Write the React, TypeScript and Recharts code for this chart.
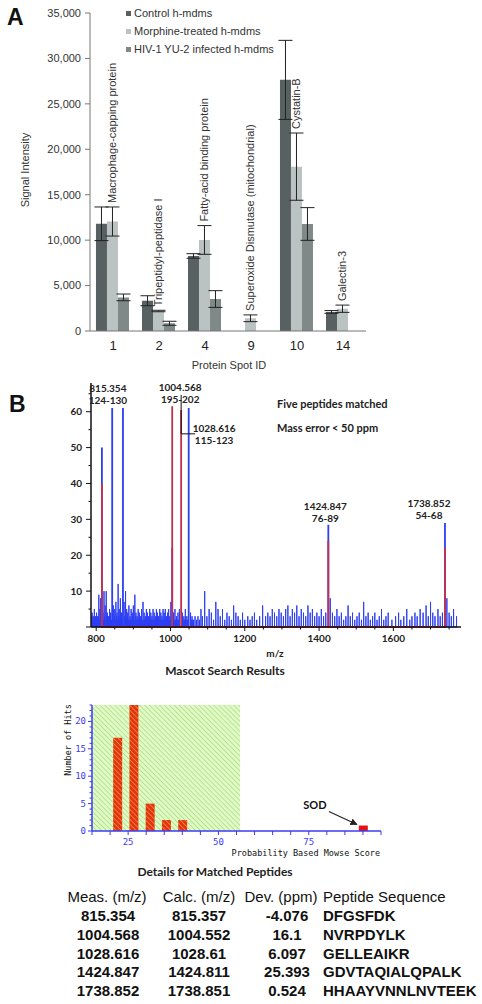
import React from 'react';
import {
    BarChart, Bar, Cell, XAxis, YAxis, ErrorBar, LabelList,
    ComposedChart, Line, Scatter, ReferenceArea
} from 'recharts';

// ---- panel A: signal intensity per protein spot
const spotIds = ['1', '2', '4', '9', '10', '14'];
const proteinNames = [
    'Macrophage-capping protein',
    'Tripeptidyl-peptidase I',
    'Fatty-acid binding protein',
    'Superoxide Dismutase (mitochondrial)',
    'Cystatin-B',
    'Galectin-3',
];
const seriesNames = ['Control h-mdms', 'Morphine-treated h-mdms', 'HIV-1 YU-2 infected h-mdms'];
const controlVals = [11800, 3330, 8260, 0, 27640, 2100];
const controlErr = [1850, 550, 250, 0, 4350, 150];
const morphineVals = [12050, 2200, 10020, 1400, 18090, 2450];
const morphineErr = [1600, 80, 1580, 370, 3700, 400];
const hivVals = [3700, 850, 3520, 0, 11780, 0];
const hivErr = [370, 220, 920, 0, 1800, 0];
const intensityTicks = [0, 5000, 10000, 15000, 20000, 25000, 30000, 35000];

// ---- panel B: MALDI spectrum (m/z, intensity)
const noisePeaks: [number, number][] = [
    [788, 3], [789, 4], [791, 2], [792, 3], [794, 2], [795, 5], [797, 2], [798, 3], [800, 2], [801, 4],
    [803, 3], [804, 2], [806, 3], [807, 9], [809, 2], [810, 5], [812, 8], [814, 3], [818, 4], [820, 2],
    [821, 10], [823, 3], [824, 6], [826, 2], [827, 10], [829, 3], [830, 4], [832, 2], [833, 3], [835, 2],
    [836, 5], [838, 3], [839, 4], [841, 2], [846, 6], [848, 3], [850, 5], [852, 2], [853, 7], [855, 3],
    [856, 4], [858, 2], [859, 12], [861, 3], [862, 5], [864, 2], [865, 8], [867, 3], [868, 4], [870, 2],
    [875, 7], [877, 3], [879, 10], [881, 2], [882, 5], [884, 3], [885, 4], [887, 2], [888, 6], [890, 2],
    [891, 3], [893, 2], [894, 5], [896, 2], [897, 4], [899, 3], [900, 6], [902, 2], [904, 9], [906, 3],
    [907, 4], [909, 2], [910, 3], [912, 2], [913, 5], [915, 2], [916, 4], [918, 2], [919, 3], [921, 2],
    [922, 5], [924, 2], [926, 7], [928, 2], [929, 4], [931, 2], [932, 3], [934, 2], [935, 5], [937, 2],
    [938, 4], [940, 2], [941, 3], [943, 2], [944, 5], [946, 2], [947, 4], [949, 2], [950, 3], [952, 2],
    [953, 5], [955, 2], [956, 4], [958, 2], [959, 3], [961, 2], [962, 5], [964, 2], [965, 4], [967, 2],
    [968, 3], [970, 2], [971, 5], [973, 2], [974, 4], [976, 2], [977, 3], [979, 2], [980, 5], [982, 2],
    [983, 4], [985, 2], [986, 5], [988, 2], [989, 3], [991, 2], [992, 4], [994, 2], [995, 5], [997, 2],
    [998, 3], [1000, 2], [1001, 7], [1008, 4], [1010, 2], [1012, 5], [1014, 2], [1016, 3], [1018, 2], [1020, 4],
    [1022, 2], [1024, 5], [1032, 4], [1034, 2], [1036, 3], [1038, 2], [1040, 5], [1042, 2], [1044, 3], [1046, 2],
    [1054, 4], [1056, 2], [1058, 3], [1060, 2], [1062, 2], [1066, 3], [1070, 2], [1074, 3], [1078, 2], [1082, 5],
    [1086, 3], [1092, 10], [1098, 3], [1104, 5], [1110, 4], [1116, 2], [1122, 7], [1128, 5], [1134, 3], [1140, 5],
    [1146, 2], [1152, 4], [1158, 3], [1164, 2], [1170, 6], [1176, 4], [1182, 3], [1188, 2], [1194, 4], [1200, 2],
    [1208, 3], [1214, 2], [1220, 3], [1226, 4], [1232, 2], [1240, 3], [1248, 6], [1256, 3], [1262, 4], [1268, 3],
    [1274, 5], [1280, 4], [1286, 3], [1292, 5], [1298, 4], [1304, 3], [1310, 5], [1316, 6], [1322, 3], [1328, 5],
    [1334, 4], [1340, 6], [1346, 3], [1352, 5], [1358, 4], [1364, 3], [1370, 6], [1376, 4], [1382, 5], [1388, 3],
    [1394, 4], [1400, 3], [1406, 5], [1412, 3], [1418, 4], [1430, 8], [1436, 4], [1442, 3], [1448, 5], [1454, 3],
    [1460, 4], [1466, 2], [1472, 3], [1478, 6], [1484, 3], [1490, 4], [1496, 2], [1502, 3], [1508, 4], [1514, 2],
    [1520, 7], [1526, 3], [1532, 4], [1538, 2], [1544, 3], [1550, 4], [1556, 2], [1562, 3], [1568, 5], [1574, 2],
    [1580, 3], [1586, 4], [1596, 2], [1606, 3], [1614, 4], [1620, 2], [1628, 3], [1636, 5], [1644, 2], [1650, 3],
    [1658, 4], [1664, 3], [1672, 5], [1680, 4], [1688, 6], [1694, 3], [1700, 7], [1706, 4], [1712, 3], [1720, 5],
    [1726, 3], [1732, 4], [1744, 8], [1750, 4], [1756, 3], [1762, 5], [1770, 3],
];
const bluePeaks: [number, number][] = [
    [815.354, 50], [843, 61], [872, 61], [1004.568, 22], [1049, 61], [1424.847, 28.5], [1738.852, 29],
];
const matchedPeaks: [number, number][] = [
    [815.354, 40], [1004.568, 61.5], [1028.616, 60.5], [1424.847, 24], [1738.852, 22],
];
const peakTags = [
    { mz: 815.354, i: 66.5, mass: '815.354', range: '124-130', dx: 6, leader: false },
    { mz: 1004.568, i: 66.8, mass: '1004.568', range: '195-202', dx: 8, leader: false },
    { mz: 1028.616, i: 55.5, mass: '1028.616', range: '115-123', dx: 33, leader: true },
    { mz: 1424.847, i: 33.8, mass: '1424.847', range: '76-89', dx: -3, leader: false },
    { mz: 1738.852, i: 34.6, mass: '1738.852', range: '54-68', dx: -16, leader: false },
];
const mzTicks = [800, 850, 900, 950, 1000, 1050, 1100, 1150, 1200, 1250, 1300, 1350, 1400, 1450, 1500, 1550, 1600, 1650, 1700, 1750];
const intTicks = [0, 5, 10, 15, 20, 25, 30, 35, 40, 45, 50, 55, 60, 65];

// ---- Mascot histogram
const scoreBins = [22, 26.5, 31, 35.5, 40, 90];
const binHits = [17, 23, 5, 2, 2, 1];
const sodIndex = 5;
const randomZoneEnd = 56;
const scoreDomain = [15, 95];
const hitDomain = [0, 23];
const scoreTicks = [15, 20, 25, 30, 35, 40, 45, 50, 55, 60, 65, 70, 75, 80, 85, 90, 95];
const hitTicks = [0, 1, 2, 3, 4, 5, 6, 7, 8, 9, 10, 11, 12, 13, 14, 15, 16, 17, 18, 19, 20, 21, 22, 23];

// ---- matched peptides table
const measMz = ['815.354', '1004.568', '1028.616', '1424.847', '1738.852'];
const calcMz = ['815.357', '1004.552', '1028.61', '1424.811', '1738.851'];
const devPpm = ['-4.076', '16.1', '6.097', '25.393', '0.524'];
const peptideSeq = ['DFGSFDK', 'NVRPDYLK', 'GELLEAIKR', 'GDVTAQIALQPALK', 'HHAAYVNNLNVTEEK'];

const C_CONTROL = '#586161';
const C_MORPHINE = '#bac3c1';
const C_HIV = '#7e8988';
const C_BLUE = '#2d3ff2';
const C_RED = '#c4304e';
const C_MASCOT = '#3b3bf5';
const SANS = 'Arial, "Liberation Sans", sans-serif';
const CALI = 'Lato, "Open Sans", sans-serif';
const MONO = '"DejaVu Sans Mono", monospace';
const seriesColors = [C_CONTROL, C_MORPHINE, C_HIV];

// Mascot chart box (shared by the two stacked charts and the y-tick labels)
const M_TOP = 690;
const M_H = 175;
const M_MARGIN = { top: 15, right: 101, bottom: 34, left: 92 };
const hitToY = (n: number) =>
    M_TOP + M_MARGIN.top + (1 - (n - hitDomain[0]) / (hitDomain[1] - hitDomain[0])) * (M_H - M_MARGIN.top - M_MARGIN.bottom);

const barData = spotIds.map((id, k) => ({
    id,
    protein: proteinNames[k],
    control: controlVals[k], controlErr: controlErr[k],
    morphine: morphineVals[k], morphineErr: morphineErr[k],
    hiv: hivVals[k], hivErr: hivErr[k],
}));

const toSticks = (peaks: [number, number][]) =>
    [...peaks].sort((a, b) => a[0] - b[0]).flatMap(([mz, h]) => [{ mz, i: 0 }, { mz, i: h }, { mz, i: 0 }]);

const mascotData = scoreBins.map((s, k) => ({ s, hits: binHits[k] }));
// two corner points so the axis-only chart has something to scale
const mascotFrame = [{ s: scoreDomain[0], n: hitDomain[0] }, { s: scoreDomain[1], n: hitDomain[1] }];

const ProteinLabel = (props: any) => {
    const { x, y, width, height, value, index } = props;
    const errPx = morphineVals[index] ? (morphineErr[index] * height) / morphineVals[index] : 0;
    const tx = x + width / 2 + 4;
    const ty = y - errPx - 4;
    return (
        <text x={tx} y={ty} transform={`rotate(-90 ${tx} ${ty})`} textAnchor="start"
            fontSize={11} fontFamily={SANS} fill="#333">{value}</text>
    );
};

const PeakTag = (props: any) => {
    const { cx, cy, payload } = props;
    const tx = cx + payload.dx;
    return (
        <g>
            {payload.leader && (
                <polyline points={`${cx},${cy - 33} ${cx},${cy + 6} ${cx + 14},${cy + 6}`} fill="none" stroke="#111" strokeWidth={1} />
            )}
            <text x={tx} y={cy + 4} textAnchor="middle" fontSize={10} fontWeight={700} fontFamily={CALI} fill="#222">{payload.mass}</text>
            <text x={tx} y={cy + 16} textAnchor="middle" fontSize={10} fontWeight={700} fontFamily={CALI} fill="#222">{payload.range}</text>
        </g>
    );
};

const SodTag = (props: any) => {
    const { cx, cy } = props;
    return (
        <g>
            <text x={cx - 48} y={cy - 17} textAnchor="middle" fontSize={11} fontWeight={700} fontFamily={CALI} fill="#111">SOD</text>
            <line x1={cx - 34} y1={cy - 14} x2={cx - 6} y2={cy - 1} stroke="#222" strokeWidth={1.2} markerEnd="url(#arrowHead)" />
        </g>
    );
};

const MzTick = (props: any) => {
    const { x, y, payload } = props;
    const major = payload.value % 200 === 0;
    return (
        <g>
            <line x1={x} y1={y} x2={x} y2={y + (major ? 4 : 2.5)} stroke="#111" />
            {major && <text x={x} y={y + 15} textAnchor="middle" fontSize={10} fontWeight={700} fontFamily={CALI} fill="#222">{payload.value}</text>}
        </g>
    );
};

const IntTick = (props: any) => {
    const { x, y, payload } = props;
    const major = payload.value % 10 === 0;
    return (
        <g>
            <line x1={x} y1={y} x2={x - (major ? 5 : 2.5)} y2={y} stroke="#111" />
            {major && payload.value > 0 && <text x={x - 9} y={y + 3.5} textAnchor="end" fontSize={10} fontWeight={700} fontFamily={CALI} fill="#222">{payload.value}</text>}
        </g>
    );
};

const ScoreTick = (props: any) => {
    const { x, y, payload } = props;
    const major = payload.value % 25 === 0;
    return (
        <g>
            <line x1={x} y1={y} x2={x} y2={y + 4} stroke={C_MASCOT} />
            {major && <text x={x} y={y + 14} textAnchor="middle" fontSize={9} fontFamily={MONO} fill={C_MASCOT}>{payload.value}</text>}
        </g>
    );
};

export default function App() {
    return (
        <div style={{ position: 'absolute', left: 0, top: 0, width: 482, height: 1004, background: '#fff', overflow: 'hidden' }}>

            {/* panel A */}
            <div style={{ position: 'absolute', left: 0, top: 0 }}>
                <BarChart width={482} height={380} data={barData}
                    margin={{ top: 13, right: 116, bottom: 19, left: 0 }}
                    barCategoryGap="13%" barGap={0}>
                    <XAxis xAxisId="edge" type="number" domain={[0, 6]} ticks={[0, 1, 2, 3, 4, 5, 6]} interval={0}
                        allowDataOverflow height={0} axisLine={false} tick={false}
                        tickLine={{ stroke: '#777' }} tickSize={5} />
                    <XAxis dataKey="id" height={30} tickLine={false} axisLine={{ stroke: '#777' }} interval={0}
                        tick={{ fill: '#222', fontSize: 13, fontFamily: SANS }} tickMargin={4} />
                    <YAxis width={90} domain={[0, 35000]} ticks={intensityTicks} interval={0}
                        tickFormatter={(v: number) => v.toLocaleString('en-US')}
                        axisLine={{ stroke: '#777' }} tickLine={{ stroke: '#777' }} tickSize={5} tickMargin={4}
                        tick={{ fill: '#333', fontSize: 11, fontFamily: SANS }} />
                    <Bar dataKey="control" name={seriesNames[0]} fill={C_CONTROL} isAnimationActive={false}>
                        <ErrorBar dataKey="controlErr" width={7} stroke="#222" strokeWidth={1} />
                    </Bar>
                    <Bar dataKey="morphine" name={seriesNames[1]} fill={C_MORPHINE} isAnimationActive={false}>
                        <ErrorBar dataKey="morphineErr" width={7} stroke="#222" strokeWidth={1} />
                        <LabelList dataKey="protein" content={ProteinLabel} />
                    </Bar>
                    <Bar dataKey="hiv" name={seriesNames[2]} fill={C_HIV} isAnimationActive={false}>
                        <ErrorBar dataKey="hivErr" width={7} stroke="#222" strokeWidth={1} />
                    </Bar>
                </BarChart>
            </div>

            {/* panel A legend */}
            <div style={{ position: 'absolute', left: 126, top: 4, fontFamily: SANS, fontSize: 11, color: '#333', lineHeight: '18px' }}>
                {seriesNames.map((n, k) => (
                    <div key={n} style={{ display: 'flex', alignItems: 'center', whiteSpace: 'nowrap' }}>
                        <span style={{ width: 5, height: 5, background: seriesColors[k], marginRight: 3, display: 'inline-block' }} />
                        {n}
                    </div>
                ))}
            </div>

            {/* panel B spectrum */}
            <div style={{ position: 'absolute', left: 0, top: 360 }}>
                <ComposedChart width={482} height={300} margin={{ top: 23, right: 21, bottom: 13, left: 0 }}>
                    <XAxis dataKey="mz" type="number" domain={[786, 1782]} ticks={mzTicks} interval={0}
                        height={20} axisLine={{ stroke: '#111', strokeWidth: 1.5 }} tickLine={false}
                        tickSize={0} tickMargin={0} tick={MzTick} />
                    <YAxis dataKey="i" type="number" domain={[0, 68]} ticks={intTicks} interval={0} width={91}
                        axisLine={{ stroke: '#111', strokeWidth: 1.5 }} tickLine={false}
                        tickSize={0} tickMargin={0} tick={IntTick} />
                    <Line data={toSticks(noisePeaks)} dataKey="i" type="linear" stroke={C_BLUE} strokeWidth={1}
                        dot={false} isAnimationActive={false} />
                    <Line data={toSticks(bluePeaks)} dataKey="i" type="linear" stroke={C_BLUE} strokeWidth={1.8}
                        dot={false} isAnimationActive={false} />
                    <Line data={toSticks(matchedPeaks)} dataKey="i" type="linear" stroke={C_RED} strokeWidth={1.8}
                        dot={false} isAnimationActive={false} />
                    <Scatter data={peakTags} dataKey="i" shape={PeakTag} isAnimationActive={false} />
                </ComposedChart>
            </div>

            {/* Mascot score histogram: marks */}
            <div style={{ position: 'absolute', left: 0, top: M_TOP }}>
                <ComposedChart width={482} height={M_H} data={mascotData} margin={M_MARGIN}>
                    <defs>
                        <pattern id="greenHatch" width="3.5" height="3.5" patternUnits="userSpaceOnUse" patternTransform="rotate(-45)">
                            <rect width="3.5" height="3.5" fill="#e2f9c9" />
                            <line x1="0" y1="0" x2="0" y2="3.5" stroke="#a9e27a" strokeWidth="1.6" />
                        </pattern>
                        <pattern id="redHatch" width="3.5" height="3.5" patternUnits="userSpaceOnUse" patternTransform="rotate(-45)">
                            <rect width="3.5" height="3.5" fill="#e23412" />
                            <line x1="0" y1="0" x2="0" y2="3.5" stroke="#f29a3a" strokeWidth="1.4" />
                        </pattern>
                        <marker id="arrowHead" viewBox="0 0 10 10" refX="9" refY="5" markerWidth="6" markerHeight="6" orient="auto">
                            <path d="M0,0 L10,5 L0,10 z" fill="#222" />
                        </marker>
                    </defs>
                    <XAxis dataKey="s" type="number" domain={scoreDomain} allowDataOverflow hide />
                    <YAxis type="number" domain={hitDomain} allowDataOverflow hide />
                    <ReferenceArea x1={scoreDomain[0]} x2={randomZoneEnd} y1={hitDomain[0]} y2={hitDomain[1]}
                        fill="url(#greenHatch)" fillOpacity={1} stroke="none" />
                    <Bar dataKey="hits" barSize={9} isAnimationActive={false}>
                        {mascotData.map((d, k) => (
                            <Cell key={d.s} fill={k === sodIndex ? '#e8100c' : 'url(#redHatch)'} />
                        ))}
                    </Bar>
                    <Scatter data={[mascotData[sodIndex]]} dataKey="hits" shape={SodTag} isAnimationActive={false} />
                </ComposedChart>
            </div>

            {/* Mascot score histogram: axes */}
            <div style={{ position: 'absolute', left: 0, top: M_TOP, pointerEvents: 'none' }}>
                <ComposedChart width={482} height={M_H} margin={{ top: M_MARGIN.top, right: M_MARGIN.right, bottom: M_MARGIN.bottom - 20, left: 0 }}>
                    <XAxis dataKey="s" type="number" domain={scoreDomain} allowDataOverflow ticks={scoreTicks} interval={0} height={20}
                        axisLine={{ stroke: C_MASCOT, strokeWidth: 1.5 }} tickLine={false} tickSize={0} tickMargin={0} tick={ScoreTick} />
                    <YAxis dataKey="n" type="number" domain={hitDomain} width={M_MARGIN.left}
                        axisLine={{ stroke: C_MASCOT, strokeWidth: 1.5 }} tickLine={false} tick={false} />
                    <Line data={mascotFrame} dataKey="n" stroke="none" dot={false} isAnimationActive={false} />
                </ComposedChart>
            </div>

            {/* free text, Mascot y ticks and the peptide table */}
            <svg width={482} height={1004} style={{ position: 'absolute', left: 0, top: 0, pointerEvents: 'none' }}>
                <text x={7} y={25} fontSize={23} fontWeight={700} fontFamily={SANS} fill="#111">A</text>
                <text x={9} y={412} fontSize={23} fontWeight={700} fontFamily={SANS} fill="#111">B</text>
                <text x={29} y={170} transform="rotate(-90 29 170)" textAnchor="middle" fontSize={11} fontFamily={SANS} fill="#333">Signal Intensity</text>
                <text x={229} y={369} textAnchor="middle" fontSize={11} fontFamily={SANS} fill="#333">Protein Spot ID</text>

                <text x={277} y={408} fontSize={11} fontWeight={700} fontFamily={CALI} fill="#222">Five peptides matched</text>
                <text x={277} y={432} fontSize={11} fontWeight={700} fontFamily={CALI} fill="#222">Mass error &lt; 50 ppm</text>
                <text x={275} y={657} textAnchor="middle" fontSize={10} fontWeight={700} fontFamily={CALI} fill="#222">m/z</text>
                <text x={225} y={675} textAnchor="middle" fontSize={12} fontWeight={700} fontFamily={CALI} fill="#222">Mascot Search Results</text>

                {hitTicks.map((n) => {
                    const ty = hitToY(n);
                    const major = n % 5 === 0;
                    return (
                        <g key={n}>
                            <line x1={M_MARGIN.left} y1={ty} x2={M_MARGIN.left - (major ? 4 : 2.5)} y2={ty} stroke={C_MASCOT} />
                            {major && <text x={M_MARGIN.left - 6} y={ty + 3} textAnchor="end" fontSize={9} fontFamily={MONO} fill={C_MASCOT}>{n}</text>}
                        </g>
                    );
                })}

                <text x={71} y={740} transform="rotate(-90 71 740)" textAnchor="middle" fontSize={8.5} fontFamily={MONO} fill="#111">Number of Hits</text>
                <text x={380} y={856} textAnchor="end" fontSize={8.5} fontFamily={MONO} fill="#111">Probability Based Mowse Score</text>
                <text x={215} y={876} textAnchor="middle" fontSize={12} fontWeight={700} fontFamily={CALI} fill="#222">Details for Matched Peptides</text>

                <text x={107} y={902} textAnchor="middle" fontSize={15} fontFamily={SANS} fill="#111">Meas. (m/z)</text>
                <text x={199} y={902} textAnchor="middle" fontSize={15} fontFamily={SANS} fill="#111">Calc. (m/z)</text>
                <text x={281} y={902} textAnchor="middle" fontSize={15} fontFamily={SANS} fill="#111">Dev. (ppm)</text>
                <text x={323} y={902} fontSize={15} fontFamily={SANS} fill="#111">Peptide Sequence</text>
                {measMz.map((m, k) => {
                    const by = 921 + k * 18.8;
                    return (
                        <g key={m} fontSize={15} fontWeight={700} fontFamily={SANS} fill="#111">
                            <text x={108} y={by} textAnchor="middle">{m}</text>
                            <text x={199} y={by} textAnchor="middle">{calcMz[k]}</text>
                            <text x={287} y={by} textAnchor="middle">{devPpm[k]}</text>
                            <text x={323} y={by}>{peptideSeq[k]}</text>
                        </g>
                    );
                })}
            </svg>
        </div>
    );
}
